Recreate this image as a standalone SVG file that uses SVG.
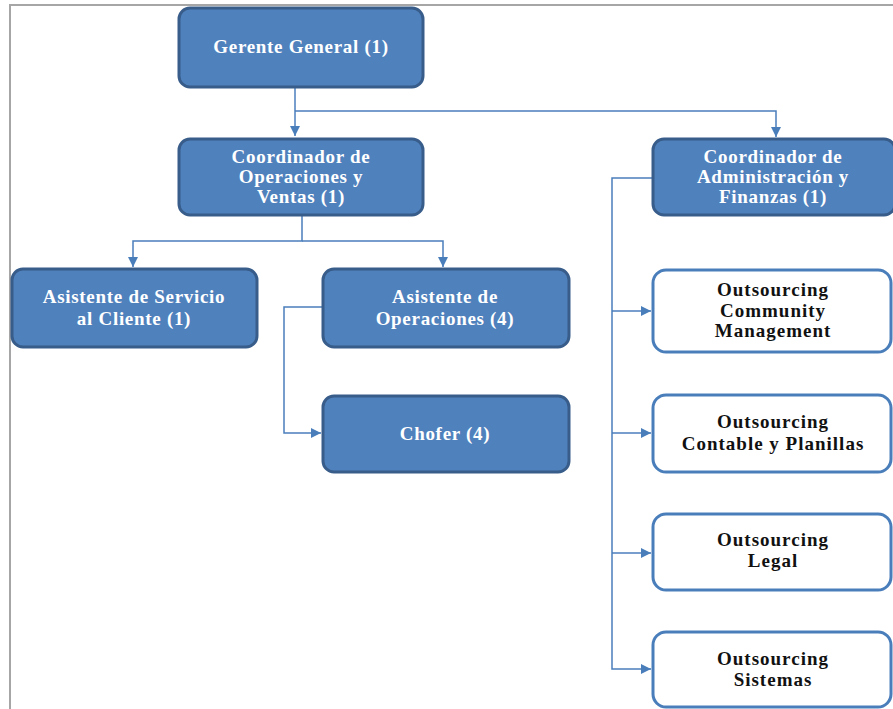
<svg xmlns="http://www.w3.org/2000/svg" width="893" height="709" viewBox="0 0 893 709">
<defs>
<marker id="arr" viewBox="0 0 10 10" refX="10" refY="5" markerWidth="10" markerHeight="10" markerUnits="userSpaceOnUse" orient="auto">
<path d="M0,0 L10,5 L0,10 z" fill="#4a7ebb"/>
</marker>
<style>
.blue{fill:#4f81bd;stroke:#385d8a;stroke-width:3}
.white{fill:#ffffff;stroke:#4a7ebb;stroke-width:3}
.tw{font-family:'Liberation Serif','DejaVu Serif',serif;font-weight:bold;font-size:19px;letter-spacing:0.7px;fill:#ffffff;text-anchor:middle}
.tb{font-family:'Liberation Serif','DejaVu Serif',serif;font-weight:bold;font-size:19px;letter-spacing:1px;fill:#111111;text-anchor:middle}
.con{fill:none;stroke:#4a7ebb;stroke-width:1.5}
</style>
</defs>
<rect width="893" height="709" fill="#ffffff"/>
<path d="M10,709 L10,5 L893,5" fill="none" stroke="#a6a6a6" stroke-width="2"/>
<g id="connectors">
<path class="con" d="M295,87 L295,136" marker-end="url(#arr)"/>
<path class="con" d="M295,111 L776,111 L776,137" marker-end="url(#arr)"/>
<path class="con" d="M302,215 L302,241 L133,241 L133,267" marker-end="url(#arr)"/>
<path class="con" d="M302,241 L443,241 L443,267" marker-end="url(#arr)"/>
<path class="con" d="M322,307 L284,307 L284,433 L321,433" marker-end="url(#arr)"/>
<path class="con" d="M652,178 L612,178 L612,669 L651,669" marker-end="url(#arr)"/>
<path class="con" d="M612,311 L651,311" marker-end="url(#arr)"/>
<path class="con" d="M612,433 L651,433" marker-end="url(#arr)"/>
<path class="con" d="M612,553 L651,553" marker-end="url(#arr)"/>
</g>
<g id="gerente">
<rect class="blue" x="179" y="8" width="244" height="79" rx="11"/>
<text class="tw" x="301" y="53">Gerente General (1)</text>
</g>
<g id="coord-ops">
<rect class="blue" x="179" y="139" width="244" height="76" rx="11"/>
<text class="tw" x="301" y="163">Coordinador de</text>
<text class="tw" x="301" y="183">Operaciones y</text>
<text class="tw" x="301" y="203">Ventas (1)</text>
</g>
<g id="coord-admin">
<rect class="blue" x="653" y="139" width="242" height="76" rx="11"/>
<text class="tw" x="773" y="163">Coordinador de</text>
<text class="tw" x="773" y="183">Administración y</text>
<text class="tw" x="773" y="203">Finanzas (1)</text>
</g>
<g id="asist-servicio">
<rect class="blue" x="12" y="269" width="245" height="78" rx="11"/>
<text class="tw" x="134" y="303">Asistente de Servicio</text>
<text class="tw" x="134" y="325">al Cliente (1)</text>
</g>
<g id="asist-ops">
<rect class="blue" x="323" y="269" width="246" height="78" rx="11"/>
<text class="tw" x="445" y="303">Asistente de</text>
<text class="tw" x="445" y="325">Operaciones (4)</text>
</g>
<g id="chofer">
<rect class="blue" x="323" y="396" width="246" height="76" rx="11"/>
<text class="tw" x="445" y="440">Chofer (4)</text>
</g>
<g id="out-community">
<rect class="white" x="653" y="270" width="238" height="82" rx="13"/>
<text class="tb" x="773" y="296">Outsourcing</text>
<text class="tb" x="773" y="317">Community</text>
<text class="tb" x="773" y="337">Management</text>
</g>
<g id="out-contable">
<rect class="white" x="653" y="395" width="238" height="77" rx="13"/>
<text class="tb" x="773" y="428">Outsourcing</text>
<text class="tb" x="773" y="450">Contable y Planillas</text>
</g>
<g id="out-legal">
<rect class="white" x="653" y="514" width="238" height="76" rx="13"/>
<text class="tb" x="773" y="546">Outsourcing</text>
<text class="tb" x="773" y="567">Legal</text>
</g>
<g id="out-sistemas">
<rect class="white" x="653" y="632" width="238" height="75" rx="13"/>
<text class="tb" x="773" y="665">Outsourcing</text>
<text class="tb" x="773" y="686">Sistemas</text>
</g>
</svg>
